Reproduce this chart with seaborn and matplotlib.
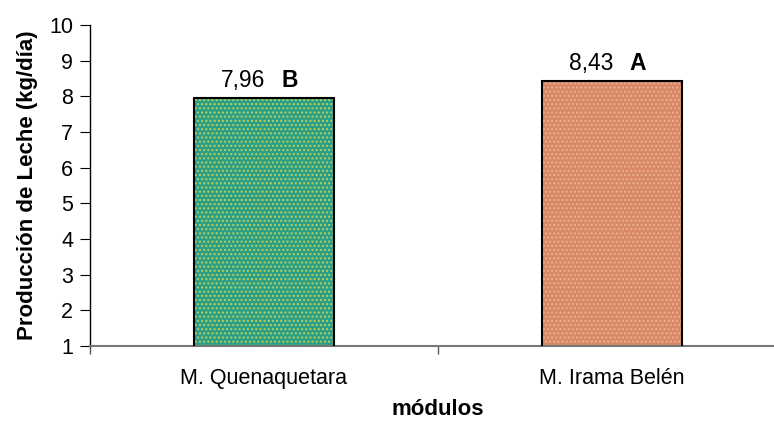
import matplotlib
matplotlib.use("Agg")
import matplotlib.pyplot as plt
from matplotlib.patches import Rectangle
import seaborn as sns
import pandas as pd

# Data
modulos = ["M. Quenaquetara", "M. Irama Belén"]
produccion = [7.96, 8.43]
grupos = ["B", "A"]
etiquetas = ["7,96", "8,43"]

base_colors = ["#2a9f86", "#d88864"]
dot_colors = ["#b9cf62", "#e9b096"]

sns.set_theme(style="white")
plt.rcParams["font.family"] = ["Liberation Sans", "DejaVu Sans"]
plt.rcParams["text.color"] = "black"
plt.rcParams["axes.labelcolor"] = "black"
plt.rcParams["xtick.color"] = "black"
plt.rcParams["ytick.color"] = "black"

df = pd.DataFrame({"modulo": modulos, "prod": produccion})

fig = plt.figure(figsize=(7.74, 4.22), dpi=100)
ax = fig.add_axes([90 / 774, 1 - 346 / 422, 696 / 774, 321 / 422])

sns.barplot(data=df, x="modulo", y="prod", hue="modulo", palette=base_colors,
            width=0.4, legend=False, ax=ax, saturation=1)

for patch, dc in zip(ax.patches, dot_colors):
    patch.set_hatch("....")
    patch.set_edgecolor(dc)
    patch.set_linewidth(0)
    x0, y0 = patch.get_x(), patch.get_y()
    w, h = patch.get_width(), patch.get_height()
    ax.add_patch(Rectangle((x0, y0), w, h, fill=False, edgecolor="black",
                           linewidth=1.5, zorder=3))

ax.set_ylim(1, 10)
ax.set_xlim(-0.5, 1.5)
ax.set_yticks(range(1, 11))
ax.tick_params(axis="y", which="major", left=True, length=7, width=0.8,
               color="black", labelsize=15.5, pad=5)
ax.tick_params(axis="x", which="major", length=0, labelsize=15.5, pad=16)
ax.set_xticks([-0.5, 0.5, 1.5], minor=True)
ax.tick_params(axis="x", which="minor", bottom=True, length=6, width=1,
               color="#555555")

for s in ["top", "right"]:
    ax.spines[s].set_visible(False)
ax.spines["left"].set_color("black")
ax.spines["left"].set_linewidth(1)
ax.spines["bottom"].set_color("#777777")
ax.spines["bottom"].set_linewidth(1.5)

ax.set_xlabel("módulos", fontsize=16, fontweight="bold", labelpad=7)
ax.set_ylabel("Producción de Leche (kg/día)", fontsize=16, fontweight="bold",
              labelpad=8)

for i, (v, lab, g) in enumerate(zip(produccion, etiquetas, grupos)):
    ax.annotate(lab, (i, v), xytext=(1, 8), textcoords="offset points",
                ha="right", va="baseline", fontsize=16.5)
    ax.annotate(g, (i, v), xytext=(12.5, 8), textcoords="offset points",
                ha="left", va="baseline", fontsize=16.5, fontweight="bold")

fig.savefig("out.png", dpi=100)
